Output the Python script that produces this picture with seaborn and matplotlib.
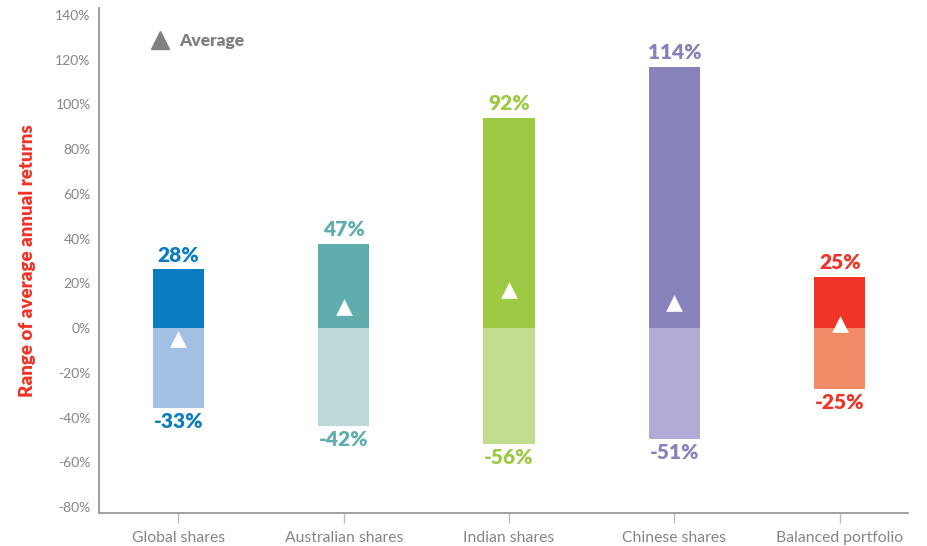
import matplotlib
matplotlib.use('Agg')
import matplotlib.pyplot as plt
from matplotlib.lines import Line2D
import seaborn as sns
import pandas as pd

categories = ['Global shares', 'Australian shares', 'Indian shares', 'Chinese shares', 'Balanced portfolio']
highs = [26.4, 37.6, 94.0, 116.9, 23.0]
lows = [-35.6, -43.6, -51.7, -49.6, -27.1]
averages = [-4.9, 9.6, 17.0, 11.4, 1.7]
high_labels = ['28%', '47%', '92%', '114%', '25%']
low_labels = ['-33%', '-42%', '-56%', '-51%', '-25%']

dark = ['#0a7cc1', '#5fadad', '#9dc945', '#8882bc', '#ef3326']
light = ['#a3bfe4', '#bcd8d9', '#c2dd90', '#b1acd5', '#f48b68']

df = pd.DataFrame({'cat': categories, 'high': highs, 'low': lows, 'avg': averages})

sns.set_style('white')
plt.rcParams['font.family'] = ['Lato', 'DejaVu Sans']

fig = plt.figure(figsize=(9.28, 5.46), dpi=100)
ax = fig.add_axes([0.1067, 0.0604, 0.8713, 0.9246])

sns.barplot(data=df, x='cat', y='high', hue='cat', palette=dict(zip(categories, dark)),
            width=0.31, dodge=False, legend=False, saturation=1, ax=ax, linewidth=0)
sns.barplot(data=df, x='cat', y='low', hue='cat', palette=dict(zip(categories, light)),
            width=0.31, dodge=False, legend=False, saturation=1, ax=ax, linewidth=0)
sns.stripplot(data=df, x='cat', y='avg', color='white', marker='^', size=12,
              jitter=False, linewidth=0, ax=ax, zorder=5)

for i in range(len(categories)):
    ax.text(i, highs[i] + 2.0, high_labels[i], ha='center', va='bottom', color=dark[i],
            fontsize=15, fontweight='heavy')
    ax.text(i, lows[i] - 2.0, low_labels[i], ha='center', va='top', color=dark[i],
            fontsize=15, fontweight='heavy')

ax.set_xlim(-0.48, 4.41)
ax.set_ylim(-82.7, 143)
ax.set_yticks(range(-80, 141, 20))
ax.set_yticklabels([f'{v}%' for v in range(-80, 141, 20)])
ax.set_xlabel('')
ax.set_ylabel('Range of average annual returns', color='#ef3326', fontsize=13.5,
              fontweight='heavy', labelpad=14)

for s in ['top', 'right']:
    ax.spines[s].set_visible(False)
for s in ['left', 'bottom']:
    ax.spines[s].set_color('#9a9a9a')
    ax.spines[s].set_linewidth(1.3)

ax.tick_params(axis='y', length=0, labelsize=10, labelcolor='#858585', pad=6)
ax.tick_params(axis='x', bottom=True, length=7, width=1, color='#bbbbbb', direction='out',
               labelsize=11.3, labelcolor='#858585', pad=6)

handle = Line2D([], [], marker='^', color='#808080', linestyle='none', markersize=13)
leg = ax.legend([handle], ['Average'], loc='center left', bbox_to_anchor=(0.035, 0.935),
                frameon=False, handletextpad=0.1, prop={'weight': 'heavy', 'size': 12.5})
for t in leg.get_texts():
    t.set_color('#808080')

fig.savefig('out.png', dpi=100)
